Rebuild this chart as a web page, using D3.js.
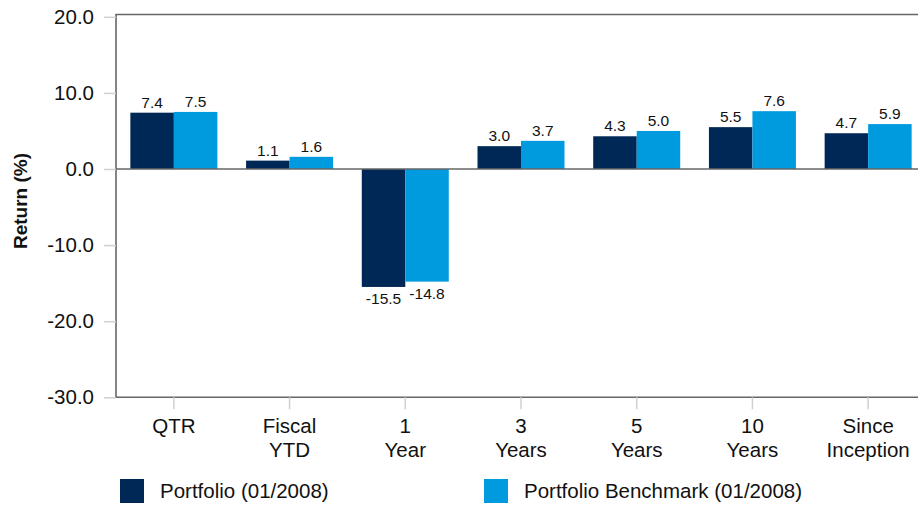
<!DOCTYPE html>
<html>
<head>
<meta charset="utf-8">
<script src="https://cdn.jsdelivr.net/npm/d3@7"></script>
<style>
  html, body { margin: 0; padding: 0; background: #fff; }
  svg { display: block; font-family: "Liberation Sans", Arial, sans-serif; }
</style>
</head>
<body>
<svg id="chart" width="918" height="506"></svg>
<script>
const categories = [["QTR"], ["Fiscal", "YTD"], ["1", "Year"], ["3", "Years"], ["5", "Years"], ["10", "Years"], ["Since", "Inception"]];
const seriesNames = ["Portfolio (01/2008)", "Portfolio Benchmark (01/2008)"];
const portfolio = [7.4, 1.1, -15.5, 3.0, 4.3, 5.5, 4.7];
const benchmark = [7.5, 1.6, -14.8, 3.7, 5.0, 7.6, 5.9];
const yTicks = [20, 10, 0, -10, -20, -30];
const colors = ["#002856", "#009bde"];

(function () {
const svg = d3.select("#chart");
const pLeft = 116, pRight = 926, pTop = 16.8, pBottom = 397.3;
const catKeys = categories.map(c => c.join(" "));
const values = [portfolio, benchmark];
const fmt = v => d3.format(".1f")(v).replace("\u2212", "-");

const x0 = d3.scaleBand().domain(catKeys).range([pLeft, pRight]).padding(0);
const x1 = d3.scaleBand().domain([0, 1]).range([0, x0.bandwidth()]).paddingInner(0).paddingOuter(0.33);
const y = d3.scaleLinear().domain([-30, 20]).range([pBottom, pTop]);

// frame (left, top, bottom)
svg.append("path")
  .attr("d", `M${918},${14.5} H${pLeft} V${pBottom} H${918}`)
  .attr("fill", "none").attr("stroke", "#666").attr("stroke-width", 1.6);

// y axis ticks & labels
const yAxis = svg.append("g").attr("transform", `translate(${pLeft},0)`)
  .call(d3.axisLeft(y).tickValues(yTicks).tickSize(12).tickPadding(10).tickFormat(fmt));
yAxis.select(".domain").remove();
yAxis.selectAll(".tick line").attr("stroke", "#d0d0d0").attr("stroke-width", 1.5);
yAxis.selectAll(".tick text").attr("font-size", 20.5).attr("fill", "#111")
  .attr("font-family", "Liberation Sans, Arial, sans-serif");

// x ticks
const xAxis = svg.append("g").attr("transform", `translate(0,${pBottom})`)
  .call(d3.axisBottom(x0).tickSize(12).tickFormat(""));
xAxis.select(".domain").remove();
xAxis.selectAll(".tick line").attr("stroke", "#d0d0d0").attr("stroke-width", 1.5);

// x labels (two lines)
categories.forEach((lines, i) => {
  const cx = x0(catKeys[i]) + x0.bandwidth() / 2;
  const t = svg.append("text")
    .attr("x", cx).attr("y", 433)
    .attr("text-anchor", "middle")
    .attr("font-size", 20.5).attr("fill", "#111");
  lines.forEach((l, j) => t.append("tspan").attr("x", cx).attr("dy", j === 0 ? 0 : 23.5).text(l));
});

// bars
values.forEach((vals, s) => {
  const g = svg.append("g");
  g.selectAll("rect").data(vals).join("rect")
    .attr("x", (d, i) => x0(catKeys[i]) + x1(s))
    .attr("width", x1.bandwidth())
    .attr("y", d => y(Math.max(0, d)))
    .attr("height", d => Math.abs(y(d) - y(0)))
    .attr("fill", colors[s]);
  g.selectAll("text").data(vals).join("text")
    .attr("x", (d, i) => x0(catKeys[i]) + x1(s) + x1.bandwidth() / 2)
    .attr("y", d => d >= 0 ? y(d) - 5 : y(d) + 17)
    .attr("text-anchor", "middle")
    .attr("font-size", 15.5).attr("fill", "#111")
    .text(fmt);
});

// zero line
svg.append("line")
  .attr("x1", pLeft).attr("x2", 918).attr("y1", y(0)).attr("y2", y(0))
  .attr("stroke", "#666").attr("stroke-width", 1.6);

// y title
svg.append("text")
  .attr("transform", `translate(27,201) rotate(-90)`)
  .attr("text-anchor", "middle")
  .attr("font-size", 19).attr("font-weight", "bold").attr("fill", "#111")
  .text("Return (%)");

// legend
const legendX = [120, 484];
seriesNames.forEach((name, s) => {
  svg.append("rect").attr("x", legendX[s]).attr("y", 479).attr("width", 24).attr("height", 24).attr("fill", colors[s]);
  svg.append("text").attr("x", legendX[s] + 40).attr("y", 498)
    .attr("font-size", 20.5).attr("fill", "#111").text(name);
});
})();
</script>
</body>
</html>
